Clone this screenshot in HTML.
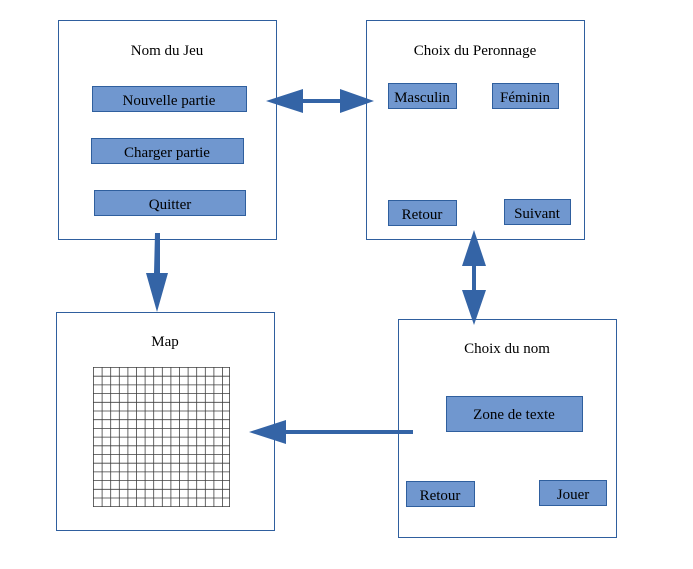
<!DOCTYPE html><html><head><style>body{margin:0;background:#fff}svg{display:block}text{font-family:"Liberation Serif",serif;font-size:15px;fill:#000}</style></head><body>
<svg width="693" height="569" xmlns="http://www.w3.org/2000/svg">
<g fill="#fff" stroke="#2f5f9e" stroke-width="1">
<rect x="58.5" y="20.5" width="218" height="219"/>
<rect x="366.5" y="20.5" width="218" height="219"/>
<rect x="56.5" y="312.5" width="218" height="218"/>
<rect x="398.5" y="319.5" width="218" height="218"/>
</g>
<g fill="#7097cf" stroke="#2f5f9e" stroke-width="1">
<rect x="92.5" y="86.5" width="154" height="25"/>
<rect x="91.5" y="138.5" width="152" height="25"/>
<rect x="94.5" y="190.5" width="151" height="25"/>
<rect x="388.5" y="83.5" width="68" height="25"/>
<rect x="492.5" y="83.5" width="66" height="25"/>
<rect x="388.5" y="200.5" width="68" height="25"/>
<rect x="504.5" y="199.5" width="66" height="25"/>
<rect x="446.5" y="396.5" width="136" height="35"/>
<rect x="406.5" y="481.5" width="68" height="25"/>
<rect x="539.5" y="480.5" width="67" height="25"/>
</g>
<g text-anchor="middle">
<text x="167" y="55">Nom du Jeu</text>
<text x="169" y="105">Nouvelle partie</text>
<text x="167" y="157">Charger partie</text>
<text x="170" y="209">Quitter</text>
<text x="475" y="55">Choix du Peronnage</text>
<text x="422" y="102">Masculin</text>
<text x="525" y="102">Féminin</text>
<text x="422" y="219">Retour</text>
<text x="537" y="218">Suivant</text>
<text x="165" y="346">Map</text>
<text x="507" y="353">Choix du nom</text>
<text x="514" y="419">Zone de texte</text>
<text x="440" y="500">Retour</text>
<text x="573" y="499">Jouer</text>
</g>
<g stroke="#000" stroke-width="0.8" opacity="0.75">
<path d="M93 367.5H230M93 376.2H230M93 384.9H230M93 393.6H230M93 402.3H230M93 411H230M93 419.7H230M93 428.4H230M93 437.1H230M93 445.8H230M93 454.5H230M93 463.2H230M93 471.9H230M93 480.6H230M93 489.3H230M93 498H230M93 506.5H230"/>
<path d="M93.5 367V507M102.1 367V507M110.7 367V507M119.3 367V507M127.9 367V507M136.5 367V507M145.1 367V507M153.7 367V507M162.3 367V507M170.9 367V507M179.5 367V507M188.1 367V507M196.7 367V507M205.3 367V507M213.9 367V507M222.5 367V507M229.5 367V507"/>
</g>
<g fill="#3464a6">
<path d="M266 101L303 89V99H340V89L374 101L340 113V103H303V113Z"/>
<path d="M155 233H160V273L168 273L157 312L146 273L154 273Z"/>
<path d="M474 230L486 266H476V290H486L474 325L462 290H472V266H462Z"/>
<path d="M249 432L286 420V430H413V434H286V444Z"/>
</g>
</svg></body></html>
